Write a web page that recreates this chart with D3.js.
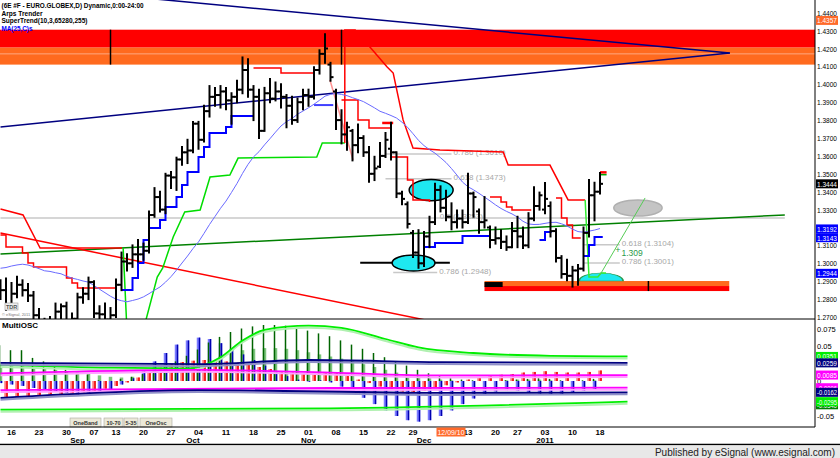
<!DOCTYPE html>
<html>
<head>
<meta charset="utf-8">
<script src="https://cdn.jsdelivr.net/npm/d3@7"></script>
<style>
body { margin: 0; background: #fff; }
svg text { font-family: "Liberation Sans", Arial, sans-serif; }
</style>
</head>
<body>
<div id="chart"></div>
<script>
// trading days shown (Aug 12 2010 .. Jan 18 2011)
var dates = ["2010-08-12","2010-08-13","2010-08-16","2010-08-17","2010-08-18","2010-08-19","2010-08-20","2010-08-23","2010-08-24","2010-08-25","2010-08-26","2010-08-27","2010-08-30","2010-08-31",
"2010-09-01","2010-09-02","2010-09-03","2010-09-07","2010-09-08","2010-09-09","2010-09-10","2010-09-13","2010-09-14","2010-09-15","2010-09-16","2010-09-17","2010-09-20","2010-09-21","2010-09-22","2010-09-23","2010-09-24","2010-09-27","2010-09-28","2010-09-29","2010-09-30",
"2010-10-01","2010-10-04","2010-10-05","2010-10-06","2010-10-07","2010-10-08","2010-10-11","2010-10-12","2010-10-13","2010-10-14","2010-10-15","2010-10-18","2010-10-19","2010-10-20","2010-10-21","2010-10-22","2010-10-25","2010-10-26","2010-10-27","2010-10-28","2010-10-29",
"2010-11-01","2010-11-02","2010-11-03","2010-11-04","2010-11-05","2010-11-08","2010-11-09","2010-11-10","2010-11-11","2010-11-12","2010-11-15","2010-11-16","2010-11-17","2010-11-18","2010-11-19","2010-11-22","2010-11-23","2010-11-24","2010-11-26","2010-11-29","2010-11-30",
"2010-12-01","2010-12-02","2010-12-03","2010-12-06","2010-12-07","2010-12-08","2010-12-09","2010-12-10","2010-12-13","2010-12-14","2010-12-15","2010-12-16","2010-12-17","2010-12-20","2010-12-21","2010-12-22","2010-12-23","2010-12-27","2010-12-28","2010-12-29","2010-12-30","2010-12-31",
"2011-01-03","2011-01-04","2011-01-05","2011-01-06","2011-01-07","2011-01-10","2011-01-11","2011-01-12","2011-01-13","2011-01-14","2011-01-18"];

var open = [1.2880,1.2850,1.2760,1.2830,1.2880,1.2850,1.2820,1.2710,1.2665,1.2630,1.2660,1.2730,1.2760,1.2665,
1.2690,1.2810,1.2830,1.2895,1.2720,1.2715,1.2685,1.2710,1.2880,1.3010,1.3000,1.3050,1.3050,1.3070,1.3270,1.3370,1.3300,1.3490,1.3480,1.3580,1.3620,
1.3630,1.3780,1.3690,1.3850,1.3930,1.3940,1.3960,1.3910,1.3930,1.3970,1.4080,1.3970,1.3930,1.3740,1.3950,1.3920,1.3960,1.3930,1.3880,1.3800,1.3900,
1.3940,1.3930,1.4080,1.4170,1.4110,1.3960,1.3800,1.3720,1.3740,1.3660,1.3700,1.3620,1.3500,1.3540,1.3600,1.3640,1.3620,1.3390,1.3330,1.3170,1.3060,
1.3000,1.3150,1.3230,1.3410,1.3310,1.3260,1.3230,1.3250,1.3230,1.3390,1.3290,1.3230,1.3200,1.3130,1.3140,1.3120,1.3090,1.3180,1.3150,1.3100,1.3250,1.3320,
1.3300,1.3320,1.3180,1.3030,1.2940,1.2930,1.2960,1.2970,1.3170,1.3380,1.3400];
var high = [1.2905,1.2915,1.2890,1.2925,1.2905,1.2885,1.2840,1.2745,1.2690,1.2700,1.2775,1.2770,1.2780,1.2720,
1.2830,1.2860,1.2920,1.2900,1.2760,1.2775,1.2750,1.2910,1.3060,1.3050,1.3100,1.3130,1.3110,1.3290,1.3420,1.3400,1.3500,1.3510,1.3590,1.3650,1.3690,
1.3790,1.3790,1.3880,1.3990,1.3980,1.3990,1.3980,1.3950,1.4020,1.4150,1.4140,1.3990,1.3970,1.3980,1.4030,1.4010,1.4000,1.3940,1.3930,1.3920,1.3970,
1.3970,1.4095,1.4190,1.4280,1.4120,1.3970,1.3855,1.3785,1.3745,1.3775,1.3710,1.3650,1.3595,1.3672,1.3728,1.3785,1.3620,1.3400,1.3340,1.3180,1.3185,
1.3175,1.3260,1.3445,1.3430,1.3405,1.3335,1.3295,1.3295,1.3500,1.3395,1.3300,1.3370,1.3205,1.3200,1.3185,1.3150,1.3225,1.3260,1.3200,1.3280,1.3425,1.3395,
1.3448,1.3340,1.3190,1.3040,1.3020,1.2980,1.2990,1.3200,1.3465,1.3450,1.3505];
var low = [1.2800,1.2740,1.2745,1.2810,1.2820,1.2790,1.2690,1.2650,1.2590,1.2600,1.2650,1.2660,1.2650,1.2620,
1.2670,1.2780,1.2800,1.2700,1.2660,1.2670,1.2650,1.2700,1.2850,1.2960,1.2980,1.3010,1.3020,1.3060,1.3260,1.3290,1.3280,1.3420,1.3410,1.3550,1.3560,
1.3620,1.3640,1.3680,1.3820,1.3880,1.3870,1.3860,1.3780,1.3900,1.3950,1.3930,1.3800,1.3700,1.3740,1.3900,1.3910,1.3870,1.3760,1.3780,1.3790,1.3860,
1.3880,1.3920,1.4060,1.4120,1.4020,1.3750,1.3670,1.3635,1.3575,1.3620,1.3600,1.3455,1.3465,1.3538,1.3594,1.3580,1.3370,1.3330,1.3200,1.3035,1.2975,
1.2985,1.3090,1.3220,1.3290,1.3240,1.3190,1.3200,1.3200,1.3225,1.3260,1.3170,1.3200,1.3090,1.3110,1.3085,1.3075,1.3090,1.3090,1.3085,1.3090,1.3240,1.3300,
1.3280,1.3150,1.3010,1.2920,1.2905,1.2870,1.2880,1.2960,1.3150,1.3240,1.3390];
var close = [1.2850,1.2760,1.2830,1.2880,1.2850,1.2820,1.2710,1.2665,1.2630,1.2660,1.2730,1.2760,1.2665,1.2690,
1.2810,1.2830,1.2895,1.2720,1.2715,1.2685,1.2710,1.2880,1.3010,1.3000,1.3050,1.3050,1.3070,1.3270,1.3370,1.3300,1.3490,1.3480,1.3580,1.3620,1.3630,
1.3780,1.3690,1.3850,1.3930,1.3940,1.3960,1.3910,1.3930,1.3970,1.4080,1.3970,1.3930,1.3740,1.3950,1.3920,1.3960,1.3930,1.3880,1.3800,1.3900,1.3940,
1.3930,1.4080,1.4170,1.4200,1.4040,1.3800,1.3720,1.3760,1.3660,1.3700,1.3620,1.3500,1.3530,1.3600,1.3690,1.3620,1.3390,1.3360,1.3220,1.3060,1.3000,
1.3150,1.3230,1.3410,1.3310,1.3260,1.3230,1.3250,1.3230,1.3390,1.3370,1.3230,1.3240,1.3130,1.3140,1.3120,1.3090,1.3180,1.3150,1.3100,1.3250,1.3320,1.3380,
1.3360,1.3180,1.3030,1.2940,1.2930,1.2960,1.2970,1.3170,1.3380,1.3400,1.3444];
// closes of the 24 sessions before Aug 12 (for MA(25,C))
var priorCloses = [1.2660,1.2620,1.2730,1.2750,1.2930,1.2940,1.2940,1.2930,1.2750,1.2910,1.2910,1.3000,1.2960,1.2990,1.3050,1.3060,1.3190,1.3230,1.3170,1.3210,1.3280,1.3230,1.3150,1.2870];

// Arps Trender / SuperTrend stops, [bar index, price]
var redLeft = [[0,1.3303],[4.1,1.3270],[7.2,1.3085],[22.1,1.3085]];
var redStepsLeft = [[0,1.3158],[1,1.3091],[4,1.3058],[5,1.3002],[6,1.2979],[12,1.2918],[13,1.2890],[14,1.2862],[21,1.2862]];
var greenUp = [[22.3,1.3085],[23,1.262],[25.9,1.262],[28.5,1.2923],[29.5,1.2974],[31.4,1.3147],[33.5,1.3287],[36.3,1.3298],[38.1,1.3482],[41.7,1.3493],[43.2,1.3588],[57.5,1.3594],[58.5,1.3672],[62.6,1.3672]];
var redTop = [[62.6,1.3672],[62.6,1.4303],[64.5,1.4303],[70.3,1.4097],[71.4,1.4063],[73.2,1.3801],[75,1.3644],[79.9,1.3633],[91.4,1.3622],[92.3,1.3549],[99.9,1.3549],[103.2,1.3354],[106.3,1.3354]];
var greenEnd = [[106.3,1.3354],[107,1.2923],[108.6,1.2923],[109.2,1.2946],[110.1,1.2946]];
var blueSteps1 = [[22,1.2851],[24,1.2918],[25,1.3002],[26,1.3130],[27,1.3197],[29,1.3242],[30,1.3315],[32,1.3370],[33,1.3437],[34,1.3510],[36,1.3594],[37,1.3650],[38,1.3728],[41,1.3761],[42,1.3823],[46,1.3823]];
var redSteps1 = [[46,1.4091],[51,1.4063],[57,1.4063]];
var blueSteps2 = [[57,1.3884],[60.5,1.3884]];
var redSteps2 = [[62,1.3912],[65,1.3801],[67,1.3756],[71,1.3594],[74,1.3466],[75,1.3354],[78,1.3342]];
var blueSteps3 = [[77,1.3091],[79,1.3113],[84,1.3153],[89,1.3153]];
var redSteps3 = [[89,1.3370],[91,1.3342],[92,1.3315],[93,1.3298],[96.5,1.3298]];
var blueSteps4 = [[98,1.3130],[99,1.3175],[100.2,1.3175]];
var redSteps4 = [[101,1.3365],[102,1.3253],[103,1.3214],[104,1.3141],[105.5,1.3141]];
var blueSteps5 = [[106,1.3041],[107,1.3102],[108,1.3147],[109.5,1.3147]];

// drawn studies
var zoneTop = [1.4305, 1.4205, 1.4110, 1.4170];
var zoneLow = [1.2901, 1.2873, 1.2845];
var zoneLowSpan = [88, 132.5];
var zoneMarks = ["2010-09-10", "2010-11-09"];
var triUpper = [[20,1.4500],[132.6,1.4175]];
var triLower = [[0,1.3761],[132.6,1.4175]];
var trendGreen = [[0,1.3052],[142.6,1.3270]];
var trendRed = [[0,1.3169],[80,1.2666]];
var levelLong = [[0,1.3253],[142.6,1.3253]];
var fibs = [
  {p:1.3610, a:70, b:82,    t:"0.786 (1.3610)"},
  {p:1.3473, a:70, b:82,    t:"0.618 (1.3473)"},
  {p:1.3253, a:79.5, b:79.5, t:"0.5 (1.3253)"},
  {p:1.2948, a:71.4, b:79.4, t:"0.786 (1.2948)"},
  {p:1.3104, a:105.9, b:112.6, t:"0.618 (1.3104)"},
  {p:1.3001, a:105.9, b:112.6, t:"0.786 (1.3001)"}
];

// MultiOSC, one value per pair of sessions (x 0.001)
var oscGreen = [51,44,44,33,28,20,16,9,9,1,0,3,6,10,15,20,28,36,45,55,63,70,75,78,80,80,79,76,72,68,64,58,52,46,40,34,28,22,16,11,7,4,2,1,0,0,1,2,3,4,3,1,0,1,3];
var oscGreenSig = [23,22,21,20,18,16,14,12,10,8,6,5,6,8,10,13,17,21,26,31,36,40,44,46,47,47,46,44,41,38,35,32,28,24,20,16,12,9,6,4,2,1,0,0,0,0,1,2,2,2,1,0,0,0,1];
var oscBlue = [-3,-5,-7,-10,-12,-15,-17,-19,-18,-16,-12,-5,4,15,28,40,52,58,62,60,54,46,38,30,22,14,7,2,-1,1,-2,-8,-15,-24,-33,-42,-50,-56,-58,-56,-50,-42,-33,-25,-19,-15,-13,-14,-16,-18,-20,-19,-17,-14,-12];
var oscRed = [-23,-23,-22,-21,-20,-19,-18,-16,-14,-11,-7,-2,5,12,19,24,27,29,30,30,28,26,23,20,17,14,12,11,12,13,11,7,2,-3,-8,-12,-15,-16,-14,-10,-6,-2,2,5,7,9,10,12,13,14,13,12,12,13,15];
var bandGreenUp = [[0,.023],[20,.019],[34,.018],[40,.034],[44,.058],[48,.073],[56,.079],[62,.076],[70,.060],[76,.048],[86,.040],[100,.036],[114,.0351]];
var bandNavyUp = [[0,.026],[36,.024],[56,.030],[80,.027],[114,.0259]];
var bandMagUp = [[0,.011],[36,.016],[60,.012],[80,.008],[114,.0085]];
var bandMagDn = [[0,-.013],[60,-.010],[114,-.0096]];
var bandNavyDn = [[0,-.024],[36,-.013],[80,-.017],[114,-.0162]];
var bandGreenDn = [[0,-.041],[60,-.039],[114,-.0295]];

// axis text
var tickDates = ["2010-08-16","2010-08-23","2010-08-30","2010-09-07","2010-09-13","2010-09-20","2010-09-27","2010-10-04","2010-10-11","2010-10-18","2010-10-25","2010-11-01","2010-11-08","2010-11-15","2010-11-22","2010-11-29","2010-12-06","2010-12-13","2010-12-20","2010-12-27","2011-01-03","2011-01-10","2011-01-18"];
var monthLabels = [["2010-09-01","Sep"],["2010-10-01","Oct"],["2010-11-01","Nov"],["2010-12-01","Dec"],["2011-01-03","2011"]];
var priceMarks = [[1.4357,"#ff6a2a"],[1.3444,"#000000"],[1.3192,"#0000ff"],[1.3143,"#0000ff"],[1.2944,"#0000ff"]];
var oscMarks = [[0.0351,"#00ee00"],[0.0259,"#000080"],[0.0085,"#ff00ff"],[-0.0096,"#ff00ff"],[-0.0162,"#000080"],[-0.0340,"#008000"],[-0.0295,"#00ee00"]];
var headerLines = ["(6E #F - EURO.GLOBEX,D) Dynamic,0:00-24:00", "Arps Trender", "SuperTrend(10,3,65280,255)", "MA(25,C)s"];
var headerWidths = [142, 41, 86, 31];

var width = 840, height = 458, axisX = 815;

var svg = d3.select("#chart").append("svg")
    .attr("width", width).attr("height", height);

var x = d3.scalePoint().domain(dates).range([0.5, 600]),
    xi = d3.scaleLinear().domain([0, dates.length - 1]).range([0.5, 600]),
    y = d3.scaleLinear().domain([1.27, 1.44]).range([317, 12.7]),
    yo = d3.scaleLinear().domain([-0.05, 0.075]).range([416, 328.5]);

svg.append("rect").attr("width", width).attr("height", height).attr("fill", "#fff");

var defs = svg.append("defs");
defs.append("clipPath").attr("id", "clipP").append("rect").attr("x", 0).attr("y", 0).attr("width", axisX).attr("height", 319);
defs.append("clipPath").attr("id", "clipO").append("rect").attr("x", 0).attr("y", 319).attr("width", axisX).attr("height", 108);

var gp = svg.append("g").attr("clip-path", "url(#clipP)");
var go = svg.append("g").attr("clip-path", "url(#clipO)");

var pline = d3.line().x(function(d) { return xi(d[0]); }).y(function(d) { return y(d[1]); });
var pstep = d3.line().x(function(d) { return xi(d[0]); }).y(function(d) { return y(d[1]); }).curve(d3.curveStepAfter);

// resistance / support zones
gp.append("rect").attr("x", 0).attr("width", axisX).attr("y", y(zoneTop[0])).attr("height", y(zoneTop[1]) - y(zoneTop[0])).attr("fill", "#ff0000");
gp.append("rect").attr("x", 0).attr("width", axisX).attr("y", y(zoneTop[1])).attr("height", y(zoneTop[2]) - y(zoneTop[1])).attr("fill", "#ff6a1e");
gp.append("line").attr("x1", 0).attr("x2", axisX).attr("y1", y(zoneTop[3])).attr("y2", y(zoneTop[3])).attr("stroke", "#ffa880").attr("stroke-width", 1);
zoneMarks.forEach(function(d) {
  gp.append("line").attr("x1", x(d)).attr("x2", x(d)).attr("y1", y(zoneTop[0])).attr("y2", y(zoneTop[2]))
    .attr("stroke", "#000").attr("stroke-width", 1.5);
});
var zl0 = xi(zoneLowSpan[0]), zl1 = xi(zoneLowSpan[1]);
gp.append("rect").attr("x", zl0).attr("width", zl1 - zl0).attr("y", y(zoneLow[0])).attr("height", y(zoneLow[1]) - y(zoneLow[0])).attr("fill", "#ff6a1e");
gp.append("rect").attr("x", zl0).attr("width", zl1 - zl0).attr("y", y(zoneLow[1])).attr("height", y(zoneLow[2]) - y(zoneLow[1])).attr("fill", "#ff0000");
gp.append("rect").attr("x", zl0).attr("width", xi(zoneLowSpan[0] + 3.3) - zl0).attr("y", y(zoneLow[0]) + 1).attr("height", 5).attr("fill", "#000");
gp.append("line").attr("x1", xi(117.8)).attr("x2", xi(117.8)).attr("y1", y(zoneLow[0])).attr("y2", y(zoneLow[2])).attr("stroke", "#000").attr("stroke-width", 1.5);

// fib levels
gp.append("path").datum(levelLong).attr("d", pline).attr("fill", "none").attr("stroke", "#c8c8c8").attr("stroke-width", 1.5);
fibs.forEach(function(f) {
  if (f.b > f.a) gp.append("line").attr("x1", xi(f.a)).attr("x2", xi(f.b)).attr("y1", y(f.p)).attr("y2", y(f.p)).attr("stroke", "#c8c8c8").attr("stroke-width", 1.5);
  gp.append("text").attr("x", xi(f.b) + 2).attr("y", y(f.p) + 1).attr("font-size", 8).attr("fill", "#a8a8a8").text(f.t);
});
gp.append("line").attr("x1", xi(65.4)).attr("x2", xi(81.7)).attr("y1", y(1.3003)).attr("y2", y(1.3003)).attr("stroke", "#000").attr("stroke-width", 2);

// trend lines
gp.append("path").datum(triUpper).attr("d", pline).attr("fill", "none").attr("stroke", "#000080").attr("stroke-width", 1.5);
gp.append("path").datum(triLower).attr("d", pline).attr("fill", "none").attr("stroke", "#000080").attr("stroke-width", 1.5);
gp.append("path").datum(trendGreen).attr("d", pline).attr("fill", "none").attr("stroke", "#008000").attr("stroke-width", 1.5);
gp.append("path").datum(trendRed).attr("d", pline).attr("fill", "none").attr("stroke", "#ff0000").attr("stroke-width", 1.5);
gp.append("path").datum([[59.9,1.4024],[64.1,1.3577]]).attr("d", pline).attr("fill", "none").attr("stroke", "#ff9090").attr("stroke-width", 1.5);

// ellipses
function ell(ci, cp, ri, rp, fill, stroke) {
  return gp.append("ellipse").attr("cx", xi(ci)).attr("cy", y(cp))
    .attr("rx", xi(ci + ri) - xi(ci)).attr("ry", y(cp - rp) - y(cp))
    .attr("fill", fill).attr("stroke", stroke).attr("stroke-width", 1.5);
}
ell(78.3, 1.3409, 4, 0.0059, "#1ee8f0", "#000");
ell(75.1, 1.3002, 3.9, 0.0045, "#1ee8f0", "#000");
ell(115.9, 1.3309, 4.4, 0.0045, "#c4c4c4", "#b0b0b0");
var semi = d3.arc().innerRadius(0).outerRadius(1).startAngle(-Math.PI / 2).endAngle(Math.PI / 2);
gp.append("path").attr("d", semi())
  .attr("transform", "translate(" + xi(109.2) + "," + y(1.2901) + ") scale(" + (xi(113.2) - xi(109.2)) + "," + (y(1.2901 - 0.0045) - y(1.2901)) + ")")
  .attr("fill", "#1ee8f0").attr("stroke", "#2a9a4a").attr("stroke-width", 0.08);

// studies
function draw(data, gen, color, w) {
  gp.append("path").datum(data).attr("d", gen).attr("fill", "none").attr("stroke", color).attr("stroke-width", w);
}
draw(redLeft, pline, "#ff0000", 1.5);
draw(redStepsLeft, pstep, "#ff0000", 1.5);
draw(greenUp, pline, "#00dd00", 1.5);
draw(redTop, pline, "#ff0000", 1.5);
draw(greenEnd, pline, "#33ee33", 1.5);
draw(blueSteps1, pstep, "#0000ff", 2);
draw(redSteps1, pstep, "#ff0000", 1.5);
draw(blueSteps2, pstep, "#4040ff", 2);
draw(redSteps2, pstep, "#ff0000", 1.5);
draw(blueSteps3, pstep, "#0000ff", 2);
draw(redSteps3, pstep, "#ff0000", 1.5);
draw(blueSteps4, pstep, "#0000ff", 2);
draw(redSteps4, pstep, "#ff0000", 1.5);
draw(blueSteps5, pstep, "#0000ff", 2);
draw([[69.4,1.3784],[71.4,1.3784]], pline, "#ff0000", 2.5);
draw([[109,1.3508],[110.2,1.3508]], pline, "#ff0000", 2.5);
draw([[109,1.3495],[110.2,1.3495]], pline, "#00aa00", 1.5);
draw([[109,1.2935],[117.2,1.3365]], pline, "#55cc55", 1);
gp.append("text").attr("x", xi(112.3) - 3).attr("y", y(1.3075) + 3).attr("font-size", 9).attr("fill", "#2a9a4a").text("+");
gp.append("text").attr("x", xi(112.9)).attr("y", y(1.3055) + 3).attr("font-size", 8.5).attr("fill", "#2a9a4a").text("1.309");

// MA(25,C)
var allCloses = priorCloses.concat(close);
var ma = dates.map(function(d, i) { return [i, d3.mean(allCloses.slice(i, i + 25))]; });
draw(ma, pline, "#6a6aff", 1);

// OHLC bars
var bars = gp.append("g").attr("stroke", "#000").attr("stroke-width", 2);
dates.forEach(function(d, i) {
  var cx = x(d);
  bars.append("line").attr("x1", cx).attr("x2", cx).attr("y1", y(high[i]) - 1).attr("y2", y(low[i]) + 1);
  bars.append("line").attr("x1", cx - 3).attr("x2", cx).attr("y1", y(open[i])).attr("y2", y(open[i]));
  bars.append("line").attr("x1", cx).attr("x2", cx + 3).attr("y1", y(close[i])).attr("y2", y(close[i]));
});

// header
headerLines.forEach(function(t, i) {
  svg.append("text").attr("x", 1.5).attr("y", 8 + i * 7.6).attr("font-size", 7.5).attr("font-weight", "bold")
    .attr("textLength", headerWidths[i]).attr("lengthAdjust", "spacingAndGlyphs")
    .attr("fill", i == 3 ? "#0000ff" : "#000").text(t);
});
svg.append("rect").attr("x", 5).attr("y", 303).attr("width", 13).attr("height", 7).attr("fill", "#eee").attr("stroke", "#999").attr("stroke-width", 0.6);
svg.append("text").attr("x", 6).attr("y", 309).attr("font-size", 5.5).attr("font-weight", "bold").attr("fill", "#555").text("TDR");
svg.append("text").attr("x", 2).attr("y", 316).attr("font-size", 4).attr("fill", "#777").text("\u00a9 eSignal, 2011");

// MultiOSC panel
var slots = dates.filter(function(d, i) { return i % 2 == 0; });
var slotsOdd = dates.filter(function(d, i) { return i % 2 == 1; });
var hist = go.append("g");
slots.forEach(function(d, k) {
  var cx = x(d);
  hist.append("line").attr("x1", cx).attr("x2", cx).attr("y1", yo(0)).attr("y2", yo(oscBlue[k] / 1000)).attr("stroke", "#7a7aff").attr("stroke-width", 3.5);
  hist.append("line").attr("x1", cx).attr("x2", cx).attr("y1", yo(0)).attr("y2", yo(oscGreenSig[k] / 1000)).attr("stroke", "#7cc47c").attr("stroke-width", 3.5);
  hist.append("line").attr("x1", cx - 1).attr("x2", cx - 1).attr("y1", yo(0)).attr("y2", yo(oscGreen[k] / 1000)).attr("stroke", "#006400").attr("stroke-width", 1.5);
  hist.append("line").attr("x1", cx + 1).attr("x2", cx + 1).attr("y1", yo(0)).attr("y2", yo(oscBlue[k] / 1000)).attr("stroke", "#0000b0").attr("stroke-width", 1.5);
});
slotsOdd.forEach(function(d, k) {
  var cx = x(d);
  hist.append("line").attr("x1", cx).attr("x2", cx).attr("y1", yo(0)).attr("y2", yo(oscRed[k] / 1000)).attr("stroke", "#ff7c7c").attr("stroke-width", 3.5);
  hist.append("line").attr("x1", cx + 1).attr("x2", cx + 1).attr("y1", yo(0)).attr("y2", yo(oscRed[k] / 1000)).attr("stroke", "#ee0000").attr("stroke-width", 1.5);
});
var oline = d3.line().x(function(d) { return xi(d[0]); }).y(function(d) { return yo(d[1]); }).curve(d3.curveMonotoneX);
[[bandGreenUp, "#00ee00", "#b0f0b0"], [bandNavyUp, "#000080", "#9090c8"], [bandMagUp, "#ff00ff", "#ffa0ff"],
 [bandMagDn, "#ff00ff", "#ffa0ff"], [bandNavyDn, "#000080", "#9090c8"], [bandGreenDn, "#00ee00", "#b0f0b0"]].forEach(function(b) {
  go.append("path").datum(b[0]).attr("d", oline).attr("fill", "none").attr("stroke", b[2]).attr("stroke-width", 2).attr("transform", "translate(0,2)");
  go.append("path").datum(b[0]).attr("d", oline).attr("fill", "none").attr("stroke", b[1]).attr("stroke-width", 1.8);
});
svg.append("text").attr("x", 2).attr("y", 327.5).attr("font-size", 8).attr("font-weight", "bold").text("MultiOSC");
[["OneBand", 70, 101], ["10-70", 104, 123], ["5-35", 124, 138], ["OneOsc", 140, 172]].forEach(function(b) {
  svg.append("rect").attr("x", b[1]).attr("y", 418).attr("width", b[2] - b[1]).attr("height", 9)
    .attr("fill", "#ece9d8").attr("stroke", "#a8a8a0").attr("stroke-width", 0.6);
  svg.append("text").attr("x", (b[1] + b[2]) / 2).attr("y", 424.5).attr("text-anchor", "middle")
    .attr("font-size", 5.5).attr("font-weight", "bold").attr("fill", "#333").text(b[0]);
});

// frames
svg.append("line").attr("x1", 0).attr("x2", axisX).attr("y1", 319).attr("y2", 319).attr("stroke", "#000");
svg.append("line").attr("x1", 0).attr("x2", axisX).attr("y1", 427).attr("y2", 427).attr("stroke", "#000");
svg.append("line").attr("x1", axisX).attr("x2", axisX).attr("y1", 0).attr("y2", 427).attr("stroke", "#000");

// right axes
var ra = svg.append("g").attr("font-size", 7.5).attr("fill", "#000");
function axisText(yy, t, fill) {
  ra.append("text").attr("x", 817).attr("y", yy + 3).attr("fill", fill)
    .attr("textLength", 20).attr("lengthAdjust", "spacingAndGlyphs").text(t);
}
d3.range(1.27, 1.4401, 0.01).forEach(function(v) { axisText(y(v), v.toFixed(4), "#000"); });
priceMarks.forEach(function(m) {
  ra.append("rect").attr("x", 816).attr("y", y(m[0]) - 4.5).attr("width", 22).attr("height", 9).attr("fill", m[1]);
  axisText(y(m[0]), m[0].toFixed(4), "#fff");
});
[0.075, 0.05, 0, -0.05].forEach(function(v) {
  ra.append("text").attr("x", 817).attr("y", yo(v) + 3).text(v === 0 ? "0" : String(v));
});
oscMarks.forEach(function(m) {
  ra.append("rect").attr("x", 816).attr("y", yo(m[0]) - 4.5).attr("width", 22).attr("height", 9).attr("fill", m[1]);
  axisText(yo(m[0]), m[0].toFixed(4), "#fff");
});

// date axis
var da = svg.append("g").attr("font-size", 8).attr("font-weight", "bold").attr("text-anchor", "middle");
tickDates.forEach(function(d) {
  if (d == "2010-12-06") return;
  da.append("text").attr("x", x(d)).attr("y", 435).text(d.slice(8, 10));
});
monthLabels.forEach(function(m) {
  da.append("text").attr("x", x(m[0])).attr("y", 442.5).text(m[1]);
});
var cur = x("2010-12-09") - 6;
svg.append("rect").attr("x", cur - 14.5).attr("y", 427.5).attr("width", 29).attr("height", 9).attr("fill", "#ff6a2a");
svg.append("text").attr("x", cur).attr("y", 435).attr("text-anchor", "middle").attr("font-size", 8).attr("fill", "#fff")
  .attr("textLength", 27).attr("lengthAdjust", "spacingAndGlyphs").text("12/09/10");

// footer
svg.append("line").attr("x1", 0).attr("x2", width).attr("y1", 444.5).attr("y2", 444.5).attr("stroke", "#000").attr("stroke-width", 1.5);
svg.append("rect").attr("x", 0).attr("y", 445.5).attr("width", width).attr("height", 12.5).attr("fill", "#e8e8e8");
svg.append("text").attr("x", 835).attr("y", 455.5).attr("text-anchor", "end").attr("font-size", 10).attr("fill", "#222")
  .text("Published by eSignal (www.esignal.com)");
</script>
</body>
</html>
